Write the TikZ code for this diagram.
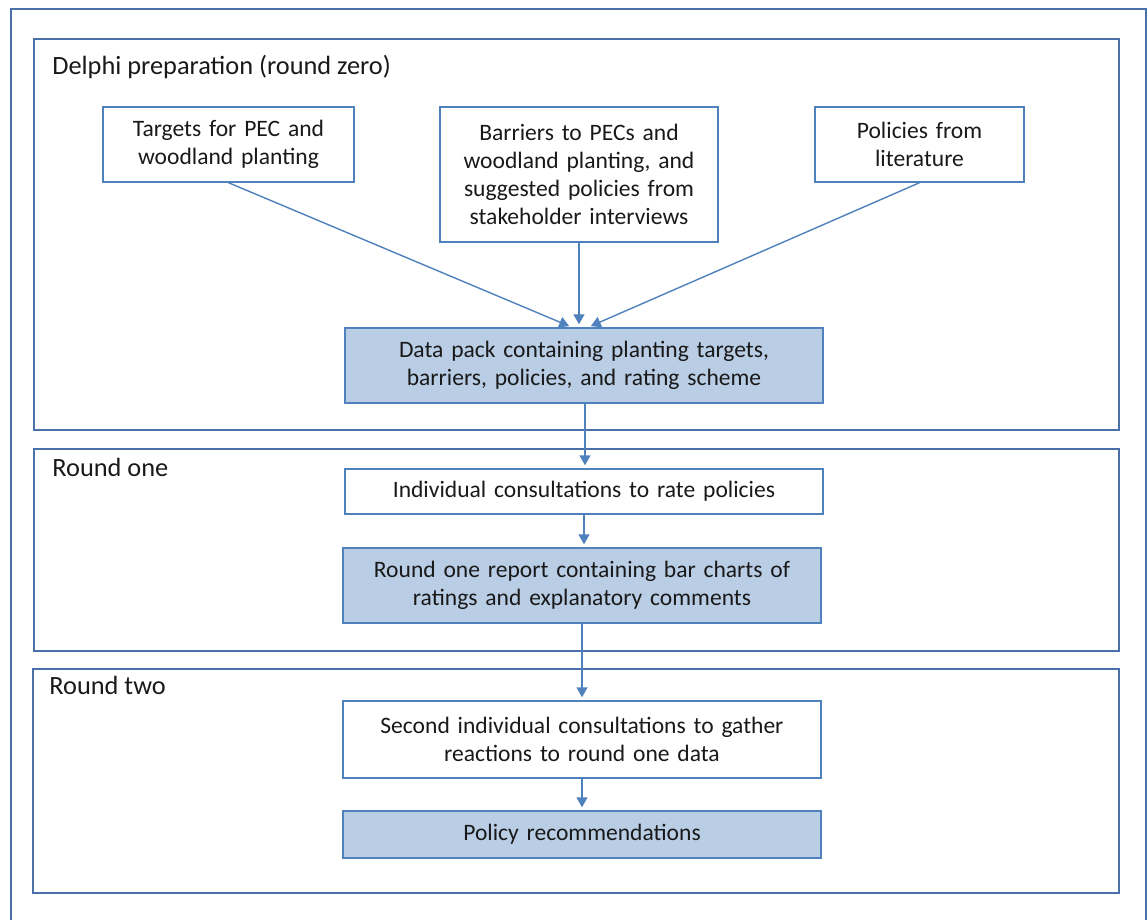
\documentclass[tikz,border=0pt]{standalone}
\usepackage{fontspec}
\setmainfont{Carlito}
\usepackage{tikz}
\usetikzlibrary{arrows.meta}
\definecolor{lineblue}{HTML}{4F81BD}
\definecolor{frameblue}{HTML}{4A70A8}
\definecolor{packfill}{HTML}{B9CDE5}

\begin{document}
\begin{tikzpicture}[
    stagebox/.style={draw=lineblue,line width=0.8pt,align=center,inner sep=0pt,text=black!90,
        font=\fontsize{13.4}{15.9}\selectfont},
    outputbox/.style={stagebox,fill=packfill},
    flow/.style={draw=lineblue,line width=0.8pt,-{Triangle[length=0.2cm,width=0.22cm]},shorten >=0.06cm},
    frame/.style={draw=frameblue,line width=0.9pt},
    roundtitle/.style={anchor=base west,inner sep=0pt,text=black!90,font=\fontsize{15}{18}\selectfont}
]
    \useasboundingbox (0,0) rectangle (22.96,18.38);
    \draw[frame] (0.22,-0.5) rectangle (22.92,18.20);
    \draw[frame] (0.68,9.78) rectangle (22.38,17.60);
    \draw[frame] (0.68,5.36) rectangle (22.38,9.40);
    \draw[frame] (0.66,0.52) rectangle (22.38,5.00);
    \node[roundtitle] (prep) at (1.04,16.88) {Delphi preparation (round zero)};
    \node[roundtitle] (one) at (1.04,8.86) {Round one};
    \node[roundtitle] (two) at (0.98,4.50) {Round two};

    \node[stagebox,text width=5.02cm,minimum height=1.50cm] (targets) at (4.57,15.49) {Targets for PEC and\\woodland planting};
    \node[stagebox,text width=5.56cm,minimum height=2.70cm] (barriers) at (11.58,14.89) {Barriers to PECs and\\woodland planting, and\\suggested policies from\\stakeholder interviews};
    \node[stagebox,text width=4.18cm,minimum height=1.50cm] (literature) at (18.39,15.49) {Policies from\\literature};
    \node[outputbox,text width=9.56cm,minimum height=1.50cm] (pack) at (11.68,11.07) {Data pack containing planting targets,\\barriers, policies, and rating scheme};
    \node[stagebox,text width=9.56cm,minimum height=0.90cm] (rate) at (11.68,8.55) {Individual consultations to rate policies};
    \node[outputbox,text width=9.56cm,minimum height=1.50cm] (report) at (11.64,6.67) {Round one report containing bar charts of\\ratings and explanatory comments};
    \node[stagebox,text width=9.56cm,minimum height=1.54cm] (second) at (11.64,3.59) {Second individual consultations to gather\\reactions to round one data};
    \node[outputbox,text width=9.56cm,minimum height=0.94cm] (recs) at (11.64,1.69) {Policy recommendations};

    \draw[flow] (targets.south) -- ([xshift=-0.24cm]pack.north);
    \draw[flow] (barriers.south) -- (barriers.south |- pack.north);
    \draw[flow] (literature.south) -- ([xshift=0.08cm]pack.north);
    \draw[flow] ([xshift=0.02cm]pack.south) -- ([xshift=0.02cm]pack.south |- rate.north);
    \draw[flow] (rate.south) -- (rate.south |- report.north);
    \draw[flow] (report.south) -- (second.north);
    \draw[flow] (second.south) -- (recs.north);
\end{tikzpicture}
\end{document}
